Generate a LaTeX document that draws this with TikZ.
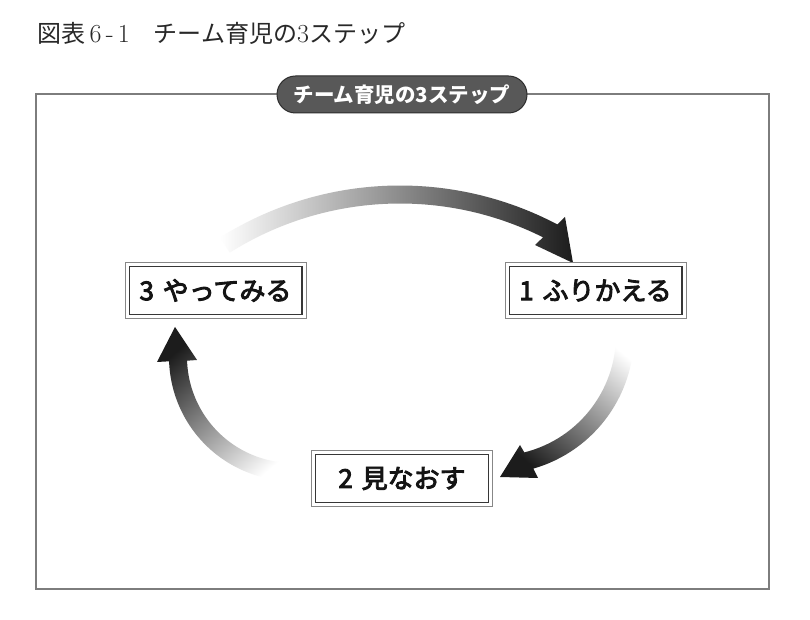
\documentclass[tikz,border=0pt]{standalone}
\usepackage{fontspec}
\newfontfamily\jp{Noto Sans CJK JP}
\newfontfamily\jpmed[FakeBold=3.5]{Noto Sans CJK JP}
\usetikzlibrary{calc,shapes.misc}
\definecolor{framegray}{RGB}{125,125,125}
\definecolor{pillfill}{RGB}{88,88,88}
\definecolor{pilledge}{RGB}{45,45,45}
\definecolor{boxouter}{RGB}{135,135,135}
\definecolor{boxinner}{RGB}{55,55,55}
\definecolor{arrowdark}{RGB}{28,28,28}
\definecolor{titletext}{RGB}{40,40,40}
\begin{document}
\begin{tikzpicture}[x=1pt,y=1pt,
  stepbox/.style={draw=boxouter, line width=0.9pt, fill=white,
    minimum width=181pt, minimum height=56pt, inner sep=0pt,
    font=\jpmed\fontsize{26}{26}\selectfont, text=black!92},
  innerline/.style={draw=boxinner, line width=1.1pt},
  gradarrow/.style={top color=white, bottom color=arrowdark},
  pill/.style={rounded rectangle, draw=pilledge, line width=1pt, fill=pillfill,
    minimum width=250pt, minimum height=37pt, inner sep=0pt,
    font=\jp\bfseries\fontsize{20.5}{20.5}\selectfont, text=white}]
\useasboundingbox (0,0) rectangle (810,620);
\fill[white] (0,0) rectangle (810,620);

% title
\node[anchor=west, inner sep=0pt, text=titletext,
      font=\jp\fontsize{24}{24}\selectfont] (title) at (37,587)
  {図表{\rmfamily\fontsize{26}{26}\selectfont\,6\,-\,1}　チーム育児の{\rmfamily\fontsize{26}{26}\selectfont 3}ステップ};

% frame
\draw[framegray, line width=1.4pt] (36,31) rectangle (769,526);
\node[pill] (pillnode) at (402,525.5) {チーム育児の3ステップ};

% centres of the arrow arcs
\coordinate (ctop) at (400,97);
\coordinate (cright) at (495,285);
\coordinate (cleft) at (293,263);

% top arrow (3 -> 1)
\shade[gradarrow, shading angle=90]
  ($(ctop)+(122.2:337.5)$) arc[start angle=122.2, end angle=62.2, radius=337.5]
  -- (565,403) -- (573,357) -- (535,375)
  -- ($(ctop)+(63.4:319.5)$) arc[start angle=63.4, end angle=122.2, radius=319.5]
  -- cycle;

% right arrow (1 -> 2)
\shade[gradarrow, shading angle=-40]
  ($(cright)+(3.5:139)$) arc[start angle=3.5, end angle=-74, radius=139]
  -- (538,142) -- (500,143) -- (520,175)
  -- ($(cright)+(-76:121)$) arc[start angle=-76, end angle=3.5, radius=121]
  -- cycle;

% left arrow (2 -> 3)
\shade[gradarrow, shading angle=-139.5]
  ($(cleft)+(-86.5:124)$) arc[start angle=-86.5, end angle=-178, radius=124]
  -- (157,258) -- (175,293) -- (197,260)
  -- ($(cleft)+(-178:106)$) arc[start angle=-178, end angle=-86.5, radius=106]
  -- cycle;

% step boxes
\node[stepbox] (s3) at (215.5,329.5) {3\hspace{3pt} やってみる};
\node[stepbox] (s1) at (595.5,329.5) {1\hspace{3pt} ふりかえる};
\node[stepbox] (s2) at (402,141.5) {2\hspace{3pt} 見なおす};
\foreach \b in {s1,s2,s3}{
  \draw[innerline] ($(\b.south west)+(4.5,4.5)$) rectangle ($(\b.north east)-(4.5,4.5)$);
}
\end{tikzpicture}
\end{document}
